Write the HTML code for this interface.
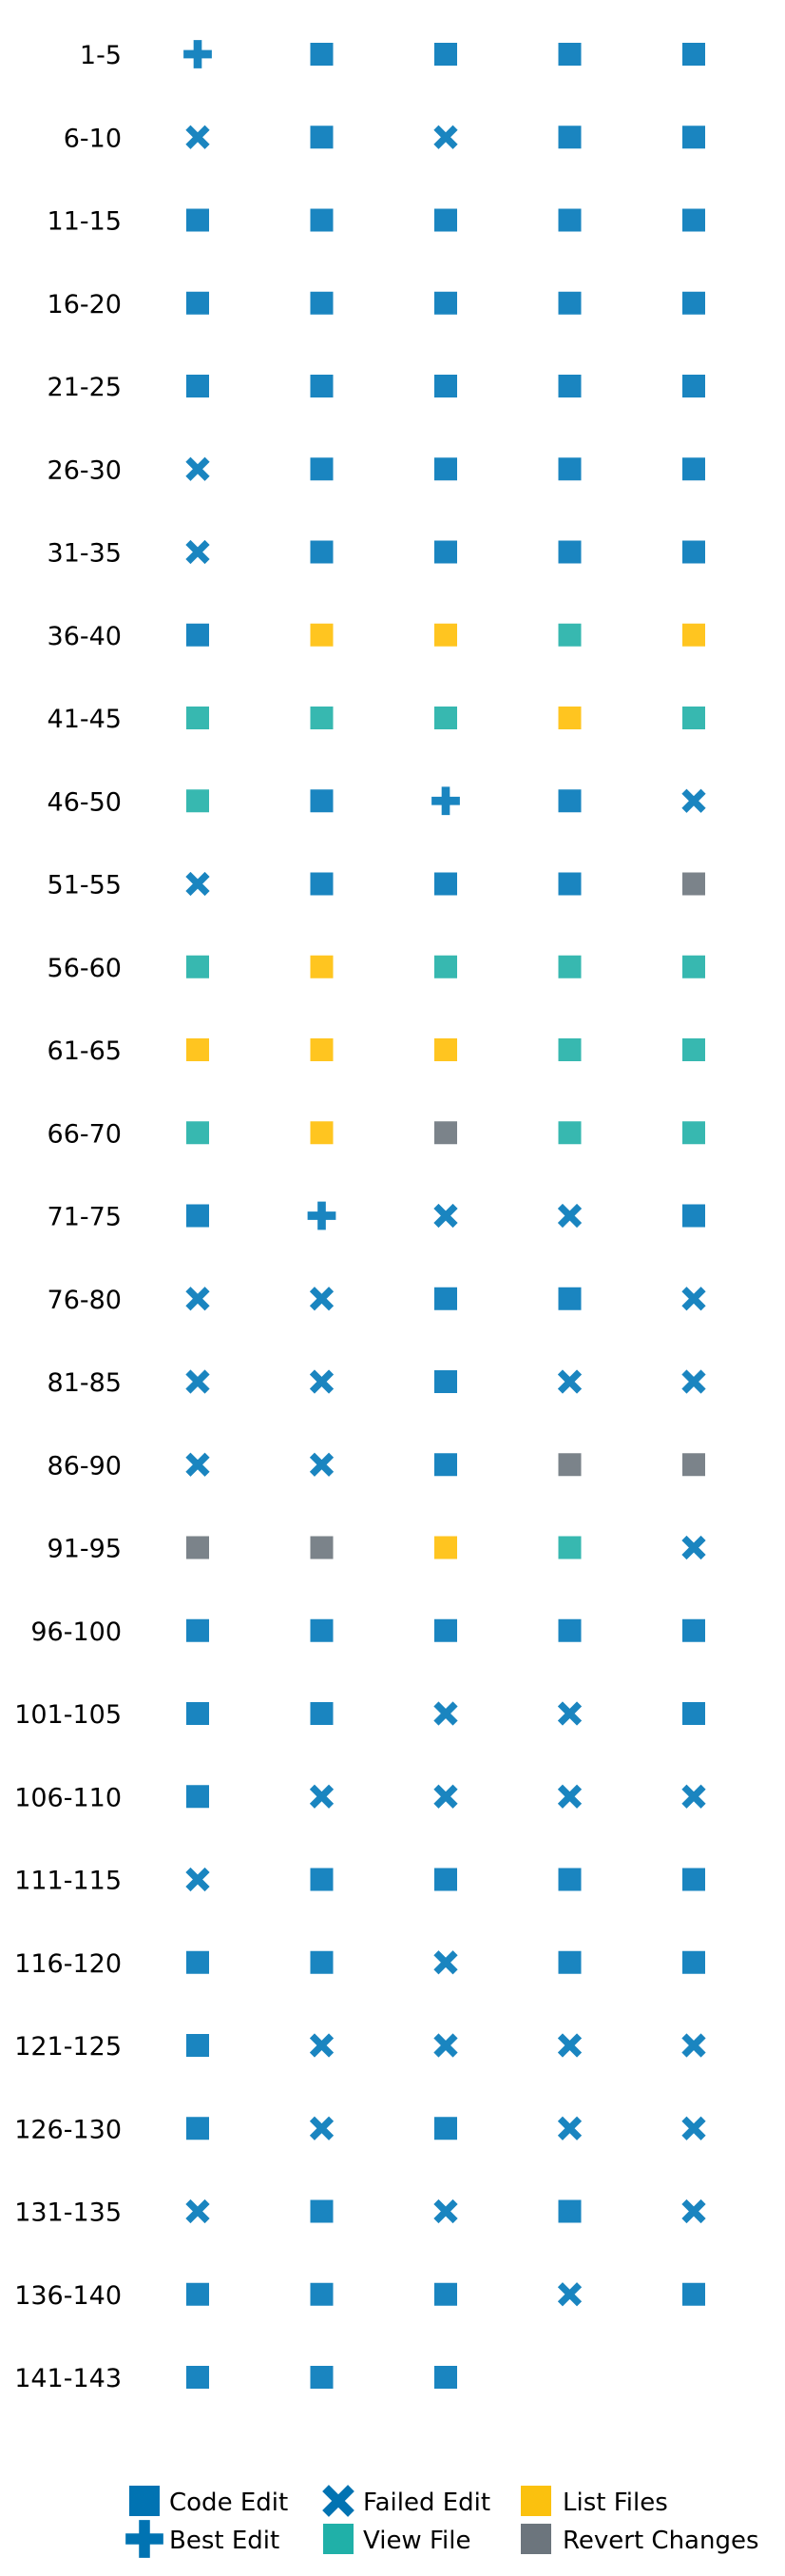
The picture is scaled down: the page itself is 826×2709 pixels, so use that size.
<!DOCTYPE html>
<html><head><meta charset="utf-8"><style>
html,body{margin:0;padding:0;background:#fff;}
svg{display:block;font-family:"DejaVu Sans","Liberation Sans",sans-serif;}
</style></head><body>
<svg id="chart" width="826" height="2709" viewBox="0 0 826 2709" xmlns="http://www.w3.org/2000/svg">
<g id="rows"></g>
<g id="legend"></g>
</svg>
<script>
const rowLabels = ["1-5","6-10","11-15","16-20","21-25","26-30","31-35","36-40","41-45","46-50","51-55","56-60","61-65","66-70","71-75","76-80","81-85","86-90","91-95","96-100","101-105","106-110","111-115","116-120","121-125","126-130","131-135","136-140","141-143"];
const actions = [
"BSSSS","XSXSS","SSSSS","SSSSS","SSSSS","XSSSS","XSSSS","SLLVL","VVVLV","VSBSX",
"XSSSR","VLVVV","LLLVV","VLRVV","SBXXS","XXSSX","XXSXX","XXSRR","RRLVX","SSSSS",
"SSXXS","SXXXX","XSSSS","SSXSS","SXXXX","SXSXX","XSXSX","SSSXS","SSS"];
const actionNames = {S:"code-edit",B:"best-edit",X:"failed-edit",V:"view-file",L:"list-files",R:"revert-changes"};
const plotColors = {S:"#1a85c0",B:"#1a85c0",X:"#1a85c0",V:"#37b8b0",L:"#ffc520",R:"#7b838a"};
const legendLabels = ["Code Edit","Best Edit","Failed Edit","View File","List Files","Revert Changes"];
const legendKeys = ["S","B","X","V","L","R"];
const legendColors = {S:"#0173b2",B:"#0173b2",X:"#0173b2",V:"#20b0a8",L:"#fbc10e",R:"#6c757d"};

const NS="http://www.w3.org/2000/svg";
const xPos = c => 208 + 130.5*c;
const yPos = r => 57 + 87.25*r;

function marker(parent, k, cx, cy, size, color){
  let el;
  if(k==="B"){
    el=document.createElementNS(NS,"path");
    const h=size*0.62, t=size*0.18;
    el.setAttribute("d",`M${cx-h},${cy-t}H${cx-t}V${cy-h}H${cx+t}V${cy-t}H${cx+h}V${cy+t}H${cx+t}V${cy+h}H${cx-t}V${cy+t}H${cx-h}Z`);
    el.setAttribute("fill",color);
  } else if(k==="X"){
    el=document.createElementNS(NS,"path");
    const h=size*0.42;
    el.setAttribute("d",`M${cx-h},${cy-h}L${cx+h},${cy+h}M${cx+h},${cy-h}L${cx-h},${cy+h}`);
    el.setAttribute("stroke",color);
    el.setAttribute("stroke-width",size*0.3);
    el.setAttribute("fill","none");
  } else {
    el=document.createElementNS(NS,"rect");
    el.setAttribute("x",cx-size/2);el.setAttribute("y",cy-size/2);
    el.setAttribute("width",size);el.setAttribute("height",size);
    el.setAttribute("fill",color);
  }
  parent.appendChild(el);
  return el;
}

const rowsG=document.getElementById("rows");
rowLabels.forEach((lab,r)=>{
  const t=document.createElementNS(NS,"text");
  t.setAttribute("x",128);t.setAttribute("y",yPos(r)+10);
  t.setAttribute("text-anchor","end");t.setAttribute("font-size","27");t.setAttribute("fill","#000");
  t.textContent=lab;
  
  
  rowsG.appendChild(t);
  actions[r].split("").forEach((k,c)=>{
    const m=marker(rowsG,k,xPos(c),yPos(r),24,plotColors[k]);
    
    
  });
});

const legG=document.getElementById("legend");
const legX=[152,356,564], legTX=[178,382,592], legY=[2630,2670];
legendKeys.forEach((k,i)=>{
  const col=Math.floor(i/2), row=i%2;
  const m=marker(legG,k,legX[col],legY[row],32,legendColors[k]);
  
  
  const t=document.createElementNS(NS,"text");
  t.setAttribute("x",legTX[col]);t.setAttribute("y",legY[row]+10);
  t.setAttribute("font-size","26");t.setAttribute("fill","#000");
  t.textContent=legendLabels[i];
  
  
  legG.appendChild(t);
});
</script>
</body></html>
